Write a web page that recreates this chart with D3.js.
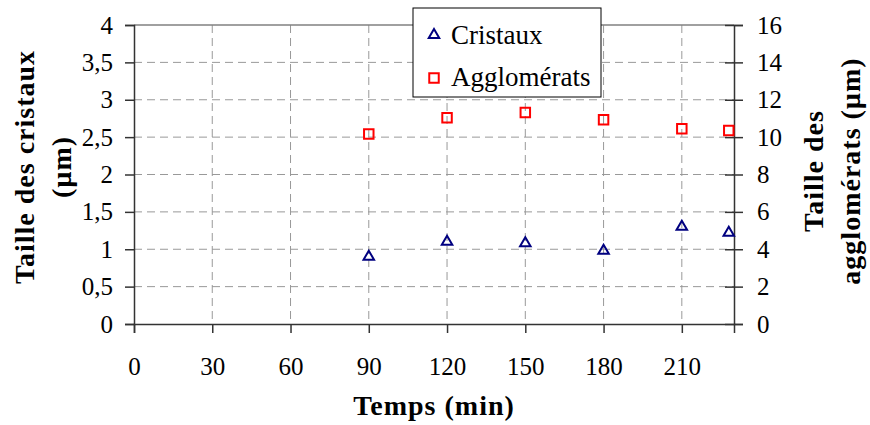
<!DOCTYPE html>
<html><head><meta charset="utf-8">
<script src="https://cdn.jsdelivr.net/npm/d3@7"></script>
<style>
html,body{margin:0;padding:0;background:#fff;}
svg text{font-family:"Liberation Serif",serif !important;fill:#000;}
</style></head>
<body><svg id="c" width="870" height="425"></svg>
<script>
const times = [90, 120, 150, 180, 210, 228];
const cristaux = [0.90, 1.10, 1.08, 0.98, 1.30, 1.22];
const agglomerats = [10.17, 11.04, 11.32, 10.93, 10.45, 10.36];
const xTicks = [0, 30, 60, 90, 120, 150, 180, 210];
const yLeftTicks = [0, 0.5, 1, 1.5, 2, 2.5, 3, 3.5, 4];
const yRightTicks = [0, 2, 4, 6, 8, 10, 12, 14, 16];
const seriesNames = ["Cristaux", "Agglomérats"];

const FF = "'Liberation Serif', serif";
const svg = d3.select("#c");
const L = 134, R = 734, T = 25, B = 324;
const x = d3.scaleLinear().domain([0, 230]).range([L, R]);
const yL = d3.scaleLinear().domain([0, 4]).range([B, T]);
const yR = d3.scaleLinear().domain([0, 16]).range([B, T]);
const fmt = d => String(d).replace(".", ",");

// grid
const g = svg.append("g");
g.selectAll(".hg").data(yLeftTicks.filter(d => d > 0 && d < 4)).enter().append("line")
  .attr("x1", L).attr("x2", R).attr("y1", d => yL(d)).attr("y2", d => yL(d))
  .attr("stroke", "#999").attr("stroke-width", 1).attr("stroke-dasharray", "8,5");
g.selectAll(".vg").data(xTicks.filter(d => d > 0)).enter().append("line")
  .attr("x1", d => x(d)).attr("x2", d => x(d)).attr("y1", T).attr("y2", B)
  .attr("stroke", "#999").attr("stroke-width", 1).attr("stroke-dasharray", "8,5");
svg.append("line").attr("x1", L).attr("x2", R).attr("y1", T).attr("y2", T)
  .attr("stroke", "#808080").attr("stroke-width", 1.5);

// axes
const axL = svg.append("g").attr("transform", `translate(${L},0)`)
  .call(d3.axisLeft(yL).tickValues(yLeftTicks).tickFormat(fmt).tickSize(9).tickPadding(12));
const axR = svg.append("g").attr("transform", `translate(${R},0)`)
  .call(d3.axisRight(yR).tickValues(yRightTicks).tickSize(9).tickPadding(14));
axR.selectAll(".tick line").attr("x1", -9);
const axB = svg.append("g").attr("transform", `translate(0,${B})`)
  .call(d3.axisBottom(x).tickValues(xTicks).tickSize(9).tickPadding(24));
[axL, axR, axB].forEach(a => {
  a.attr("font-family", FF).attr("font-size", 25);
  a.select(".domain").attr("stroke", "#333").attr("stroke-width", 1.5);
  a.selectAll(".tick line").attr("stroke", "#333").attr("stroke-width", 1.5);
  a.selectAll(".tick text").style("font-family", FF).style("font-size", "25px").attr("fill", "#000");
});

// markers
const tri = d3.symbol().type(d3.symbolTriangle).size(48);
const sq = d3.symbol().type(d3.symbolSquare).size(90);
svg.append("g").selectAll("path").data(times.map((t, i) => [t, cristaux[i]])).enter()
  .append("path").attr("d", tri).attr("transform", d => `translate(${x(d[0])},${yL(d[1])})`)
  .attr("fill", "none").attr("stroke", "#000080").attr("stroke-width", 2);
svg.append("g").selectAll("path").data(times.map((t, i) => [t, agglomerats[i]])).enter()
  .append("path").attr("d", sq).attr("transform", d => `translate(${x(d[0])},${yR(d[1])})`)
  .attr("fill", "none").attr("stroke", "#ff0000").attr("stroke-width", 2);

// legend
const lg = svg.append("g");
lg.append("rect").attr("x", 413).attr("y", 8).attr("width", 188).attr("height", 89)
  .attr("fill", "#fff").attr("stroke", "#000").attr("stroke-width", 1);
lg.append("path").attr("d", tri).attr("transform", "translate(434,35)")
  .attr("fill", "none").attr("stroke", "#000080").attr("stroke-width", 2);
lg.append("path").attr("d", sq).attr("transform", "translate(434,78)")
  .attr("fill", "none").attr("stroke", "#ff0000").attr("stroke-width", 2);
lg.selectAll("text").data(seriesNames).enter().append("text")
  .attr("x", 451).attr("y", (d, i) => 44 + i * 42).style("font-family", FF).style("font-size", "27px").text(d => d);

// titles
const titleStyle = s => s.style("font-family", FF).style("font-size", "28px").style("font-weight", "bold").style("letter-spacing", "1px");
svg.append("text").attr("x", 434).attr("y", 415).attr("text-anchor", "middle")
  .call(titleStyle).text("Temps (min)");
const lt = svg.append("text").attr("transform", "translate(0,167) rotate(-90)")
  .attr("text-anchor", "middle").call(titleStyle);
lt.append("tspan").attr("x", 0).attr("y", 34).text("Taille des cristaux");
lt.append("tspan").attr("x", 0).attr("y", 71).text("(µm)");
const rt = svg.append("text").attr("transform", "translate(0,171) rotate(-90)")
  .attr("text-anchor", "middle").call(titleStyle);
rt.append("tspan").attr("x", 0).attr("y", 823).text("Taille des");
rt.append("tspan").attr("x", 0).attr("y", 860).text("agglomérats (µm)");
</script></body></html>
